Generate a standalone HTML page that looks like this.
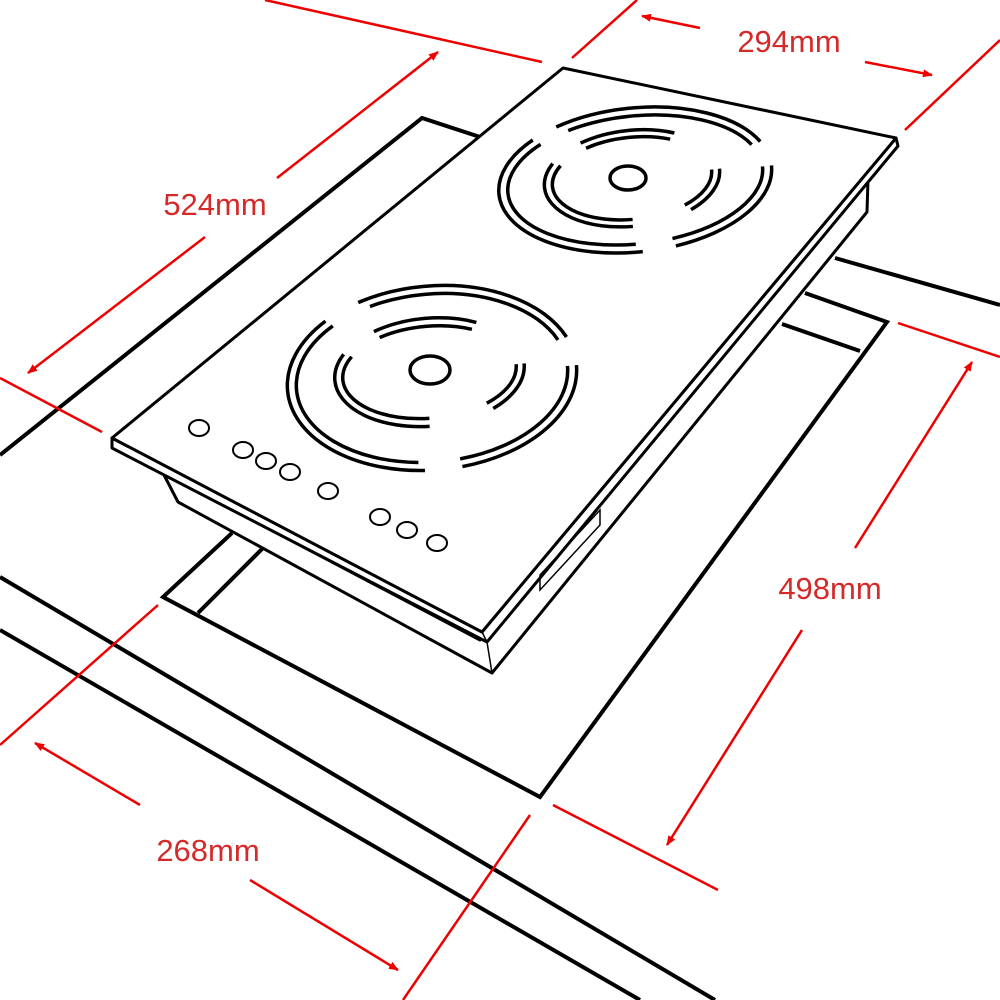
<!DOCTYPE html>
<html><head><meta charset="utf-8"><style>
html,body{margin:0;padding:0;background:#fff;}
svg{display:block}
text{font-family:"Liberation Sans",sans-serif;font-size:31px;fill:#d42a2a}
</style></head><body>
<svg width="1000" height="1000" viewBox="0 0 1000 1000" xmlns="http://www.w3.org/2000/svg">
<defs>
<marker id="ah" markerWidth="10" markerHeight="8" refX="9" refY="4" orient="auto" markerUnits="userSpaceOnUse">
<path d="M0,0 L10,4 L0,8 z" fill="#e00"/></marker>
</defs>
<g fill="none" stroke="#000" stroke-width="4" stroke-linejoin="miter">
<path d="M0,455 L422,118 L480,137"/>
<path d="M835,258 L1000,305"/>
<path d="M805,293 L887,322 L540,797 L163,597 L232,533"/>
<path d="M782,324 L860,351"/>
<path d="M198,613 L263,548"/>
<path d="M0,577 L715,1000"/>
<path d="M0,630 L640,1000"/>
</g>
<g fill="#fff" stroke="#000" stroke-width="3" stroke-linejoin="round">
<path d="M163,473 L178,502 L492,673 L867,212 L868,180 L480,640 Z"/>
<path d="M112,438 L112,448 L487,642 L898,146 L896,138 L482,632 Z"/>
<path d="M563,68 L896,138 L482,632 L112,438 Z"/>
</g>
<g fill="none" stroke="#000" stroke-width="1.5">
<path d="M482,632 L487,642 L492,673"/>
<path d="M540,590 L540,575 L600,510 L600,525 Z"/>
</g>
<g fill="none" stroke="#000" stroke-width="3.5">
<ellipse cx="628" cy="178" rx="18" ry="12"/>
<g transform="rotate(-6 635 178)">
<ellipse cx="635" cy="180" rx="137" ry="72" pathLength="100" stroke-dasharray="20 5 35 4 32 4"/>
<ellipse cx="635" cy="180" rx="128" ry="64" pathLength="100" stroke-dasharray="20 6 34 5 31 4"/>
<ellipse cx="632" cy="178" rx="88" ry="48" pathLength="100" stroke-dasharray="12 14 30 8 22 14"/>
<ellipse cx="632" cy="178" rx="80" ry="41" pathLength="100" stroke-dasharray="12 14 30 8 22 14"/>
</g>
<ellipse cx="430" cy="370" rx="20" ry="14"/>
<g transform="rotate(-5 432 378)">
<ellipse cx="432" cy="378" rx="145" ry="92" pathLength="100" stroke-dasharray="22 5 34 5 30 4"/>
<ellipse cx="432" cy="378" rx="136" ry="84" pathLength="100" stroke-dasharray="22 6 33 6 29 4"/>
<ellipse cx="430" cy="372" rx="95" ry="54" pathLength="100" stroke-dasharray="12 14 30 8 22 14"/>
<ellipse cx="430" cy="372" rx="87" ry="46" pathLength="100" stroke-dasharray="12 14 30 8 22 14"/>
</g>
</g>
<g fill="none" stroke="#000" stroke-width="2">
<ellipse cx="199" cy="428" rx="10" ry="8"/>
<ellipse cx="243" cy="450" rx="10" ry="8"/>
<ellipse cx="266" cy="461" rx="10" ry="8"/>
<ellipse cx="290" cy="472" rx="10" ry="8"/>
<ellipse cx="328" cy="491" rx="10" ry="8"/>
<ellipse cx="380" cy="517" rx="10" ry="8"/>
<ellipse cx="407" cy="530" rx="10" ry="8"/>
<ellipse cx="437" cy="543" rx="10" ry="8"/>
</g>
<g stroke="#e00" stroke-width="2.5" fill="none">
<path d="M265,0 L542,62"/>
<path d="M572,58 L637,0"/>
<path d="M905,130 L1000,40"/>
<path d="M700,28 L642,16" marker-end="url(#ah)"/>
<path d="M865,62 L932,75" marker-end="url(#ah)"/>
<path d="M0,378 L102,432"/>
<path d="M205,237 L28,373" marker-end="url(#ah)"/>
<path d="M277,178 L438,52" marker-end="url(#ah)"/>
<path d="M898,323 L1000,357"/>
<path d="M553,805 L718,890"/>
<path d="M855,548 L972,362" marker-end="url(#ah)"/>
<path d="M802,630 L667,845" marker-end="url(#ah)"/>
<path d="M0,745 L158,605"/>
<path d="M403,1000 L530,815"/>
<path d="M140,805 L35,743" marker-end="url(#ah)"/>
<path d="M250,880 L398,970" marker-end="url(#ah)"/>
</g>
<text x="789" y="52" text-anchor="middle">294mm</text>
<text x="215" y="215" text-anchor="middle">524mm</text>
<text x="830" y="599" text-anchor="middle">498mm</text>
<text x="208" y="861" text-anchor="middle">268mm</text>
</svg>
</body></html>
